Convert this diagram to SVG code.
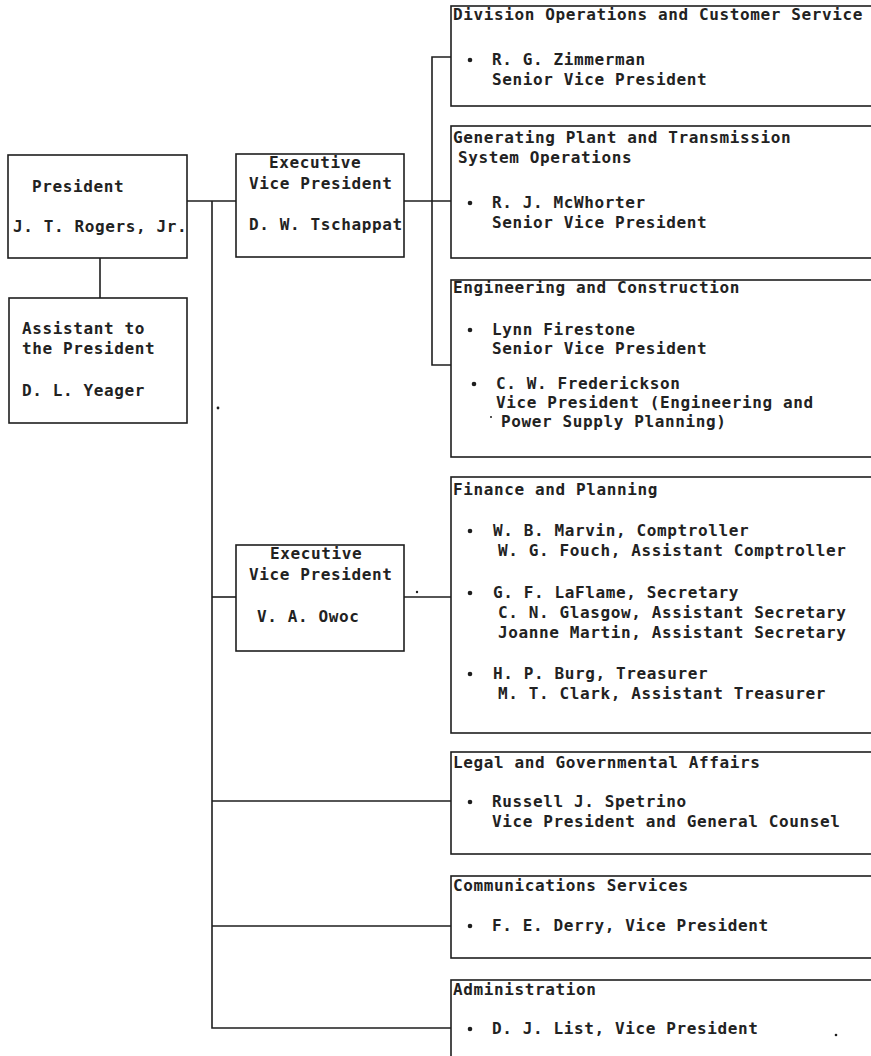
<svg xmlns="http://www.w3.org/2000/svg" width="871" height="1056" viewBox="0 0 871 1056">
<style>
.box{fill:none;stroke:#1e1e1e;stroke-width:1.6}
.ln{fill:none;stroke:#1e1e1e;stroke-width:1.6}
.t{font-family:"DejaVu Sans Mono","Liberation Mono",monospace;font-size:16px;letter-spacing:0.62px;fill:#222;font-weight:bold}
.b{fill:#1e1e1e}
</style>
<rect width="871" height="1056" fill="#fff"/>
<g id="connectors" class="ln">
<path d="M187 201H236"/>
<path d="M100 258V298"/>
<path d="M212 201V1028H451"/>
<path d="M212 597H236"/>
<path d="M404 597H451"/>
<path d="M212 801H451"/>
<path d="M212 926H451"/>
<path d="M404 201H451"/>
<path d="M451 57H432V365H451"/>
</g>
<g id="president">
<rect class="box" x="8" y="155" width="179" height="103"/>
<text class="t" x="32" y="192">President</text>
<text class="t" x="13" y="232">J. T. Rogers, Jr.</text>
</g>
<g id="assistant">
<rect class="box" x="9" y="298" width="178" height="125"/>
<text class="t" x="22" y="334">Assistant to</text>
<text class="t" x="22" y="354">the President</text>
<text class="t" x="22" y="396">D. L. Yeager</text>
</g>
<g id="evp-tschappat">
<rect class="box" x="236" y="154" width="168" height="103"/>
<text class="t" x="269" y="168">Executive</text>
<text class="t" x="249" y="189">Vice President</text>
<text class="t" x="249" y="230">D. W. Tschappat</text>
</g>
<g id="evp-owoc">
<rect class="box" x="236" y="545" width="168" height="106"/>
<text class="t" x="270" y="559">Executive</text>
<text class="t" x="249" y="580">Vice President</text>
<text class="t" x="257" y="622">V. A. Owoc</text>
</g>
<g id="division-ops">
<rect class="box" x="451" y="6" width="440" height="100"/>
<text class="t" x="453" y="20">Division Operations and Customer Service</text>
<circle class="b" cx="470" cy="60" r="2.3"/>
<text class="t" x="492" y="65">R. G. Zimmerman</text>
<text class="t" x="492" y="85">Senior Vice President</text>
</g>
<g id="generating">
<rect class="box" x="451" y="126" width="440" height="132"/>
<text class="t" x="453" y="143">Generating Plant and Transmission</text>
<text class="t" x="458" y="163">System Operations</text>
<circle class="b" cx="470" cy="203" r="2.3"/>
<text class="t" x="492" y="208">R. J. McWhorter</text>
<text class="t" x="492" y="228">Senior Vice President</text>
</g>
<g id="engineering">
<rect class="box" x="451" y="280" width="440" height="177"/>
<text class="t" x="453" y="293">Engineering and Construction</text>
<circle class="b" cx="470" cy="330" r="2.3"/>
<text class="t" x="492" y="335">Lynn Firestone</text>
<text class="t" x="492" y="354">Senior Vice President</text>
<circle class="b" cx="474" cy="384" r="2.3"/>
<text class="t" x="496" y="389">C. W. Frederickson</text>
<text class="t" x="496" y="408">Vice President (Engineering and</text>
<text class="t" x="501" y="427">Power Supply Planning)</text>
<circle class="b" cx="491" cy="417" r="1"/>
</g>
<g id="finance">
<rect class="box" x="451" y="477" width="440" height="256"/>
<text class="t" x="453" y="495">Finance and Planning</text>
<circle class="b" cx="470" cy="531" r="2.3"/>
<text class="t" x="493" y="536">W. B. Marvin, Comptroller</text>
<text class="t" x="498" y="556">W. G. Fouch, Assistant Comptroller</text>
<circle class="b" cx="470" cy="593" r="2.3"/>
<text class="t" x="493" y="598">G. F. LaFlame, Secretary</text>
<text class="t" x="498" y="618">C. N. Glasgow, Assistant Secretary</text>
<text class="t" x="498" y="638">Joanne Martin, Assistant Secretary</text>
<circle class="b" cx="470" cy="674" r="2.3"/>
<text class="t" x="493" y="679">H. P. Burg, Treasurer</text>
<text class="t" x="498" y="699">M. T. Clark, Assistant Treasurer</text>
</g>
<g id="legal">
<rect class="box" x="451" y="752" width="440" height="102"/>
<text class="t" x="453" y="768">Legal and Governmental Affairs</text>
<circle class="b" cx="470" cy="802" r="2.3"/>
<text class="t" x="492" y="807">Russell J. Spetrino</text>
<text class="t" x="492" y="827">Vice President and General Counsel</text>
</g>
<g id="communications">
<rect class="box" x="451" y="876" width="440" height="82"/>
<text class="t" x="453" y="891">Communications Services</text>
<circle class="b" cx="470" cy="926" r="2.3"/>
<text class="t" x="492" y="931">F. E. Derry, Vice President</text>
</g>
<g id="administration">
<rect class="box" x="451" y="980" width="440" height="100"/>
<text class="t" x="453" y="995">Administration</text>
<circle class="b" cx="470" cy="1029" r="2.3"/>
<text class="t" x="492" y="1034">D. J. List, Vice President</text>
</g>
<g id="specks" class="b">
<circle cx="218" cy="408" r="1.4"/>
<circle cx="417" cy="592" r="1.2"/>
<circle cx="836" cy="1035" r="1.3"/>
</g>
</svg>
